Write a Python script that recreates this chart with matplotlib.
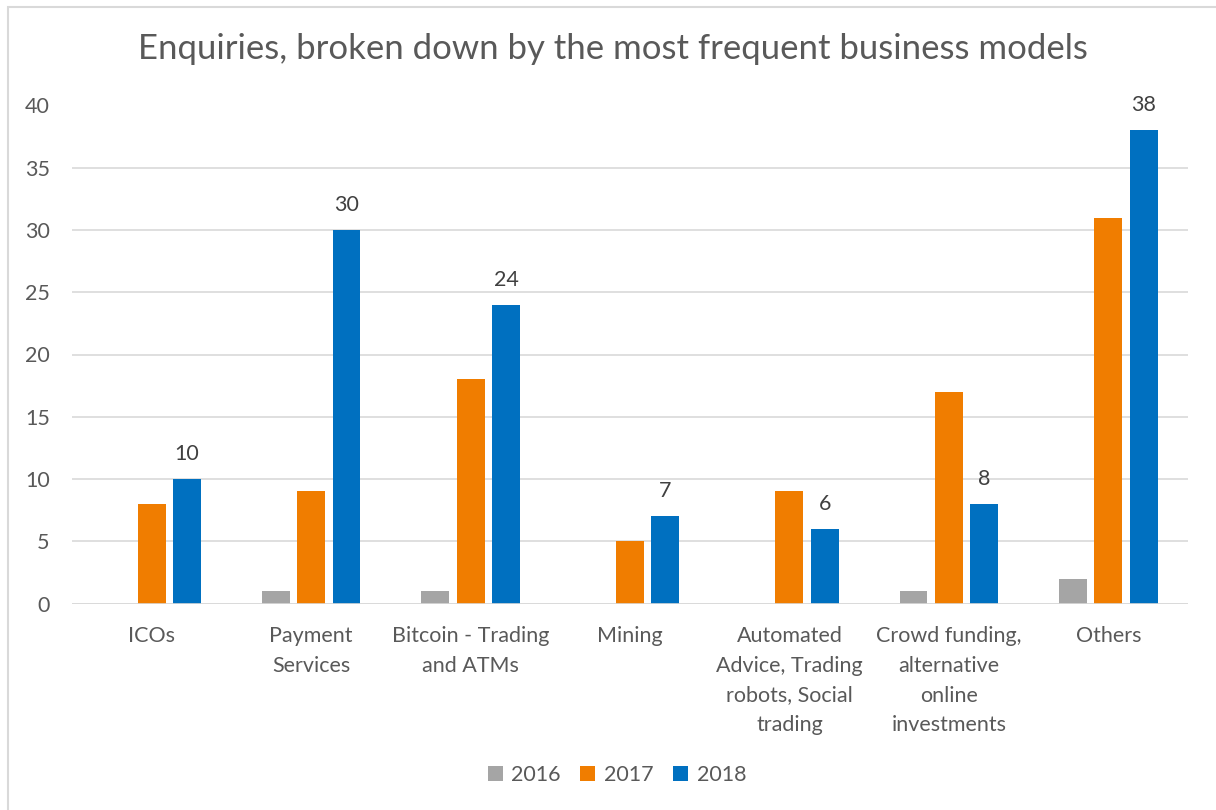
import matplotlib
matplotlib.use("Agg")
import matplotlib.pyplot as plt
import numpy as np

categories = ["ICOs", "Payment\nServices", "Bitcoin - Trading\nand ATMs", "Mining",
              "Automated\nAdvice, Trading\nrobots, Social\ntrading",
              "Crowd funding,\nalternative\nonline\ninvestments", "Others"]
series_names = ["2016", "2017", "2018"]
v2016 = [0, 1, 1, 0, 0, 1, 2]
v2017 = [8, 9, 18, 5, 9, 17, 31]
v2018 = [10, 30, 24, 7, 6, 8, 38]
yticks = [0, 5, 10, 15, 20, 25, 30, 35, 40]
title = "Enquiries, broken down by the most frequent business models"

colors = ["#A5A5A5", "#F07D00", "#0070C0"]
text_color = "#595959"
plt.rcParams['font.family'] = ['Lato', 'DejaVu Sans']

fig = plt.figure(figsize=(12.16, 8.10), dpi=100)
ax = fig.add_axes([72/1216, 1-603.5/810, (1188-72)/1216, (603.5-105.5)/810])

x = np.arange(len(categories))
step = 0.222
width = 0.175
for i, (vals, c, name) in enumerate(zip([v2016, v2017, v2018], colors, series_names)):
    bars = ax.bar(x + (i-1)*step, vals, width=width, color=c, label=name, zorder=3)
    if name == "2018":
        for b, v in zip(bars, vals):
            ax.text(b.get_x()+b.get_width()/2, v + 2.0, str(v), ha='center', va='center',
                    fontsize=15.5, color="#404040")

ax.set_xlim(-0.5, len(categories)-0.5)
ax.set_ylim(0, 40)
ax.set_yticks(yticks)
ax.set_yticklabels([str(t) for t in yticks], fontsize=15.5, color=text_color)
ax.set_xticks(x)
ax.set_xticklabels(categories, fontsize=15.5, color=text_color, linespacing=1.62, va='top')
ax.tick_params(axis='both', length=0)
ax.tick_params(axis='y', pad=16)
ax.tick_params(axis='x', pad=16)
ax.grid(axis='y', color="#D9D9D9", linewidth=1.2, zorder=0)
for s in ax.spines.values():
    s.set_visible(False)
ax.axhline(0, color="#D9D9D9", linewidth=1.2, zorder=4)

fig.text(613/1216, 1-49/810, title, ha='center', va='center', fontsize=25, color=text_color)

leg = fig.legend(loc='center', bbox_to_anchor=(617/1216, 1-775/810), ncol=3, frameon=False,
                 fontsize=15.5, handlelength=0.7, handleheight=0.7, handletextpad=0.4,
                 columnspacing=0.9)
for t in leg.get_texts():
    t.set_color(text_color)

# outer border
fig.patches.append(plt.Rectangle((8/1216, -0.01), 1.1, 1-7/810+0.01, transform=fig.transFigure,
                                 fill=False, edgecolor="#D9D9D9", linewidth=1.5))

fig.savefig("out.png", dpi=100, facecolor='white')
